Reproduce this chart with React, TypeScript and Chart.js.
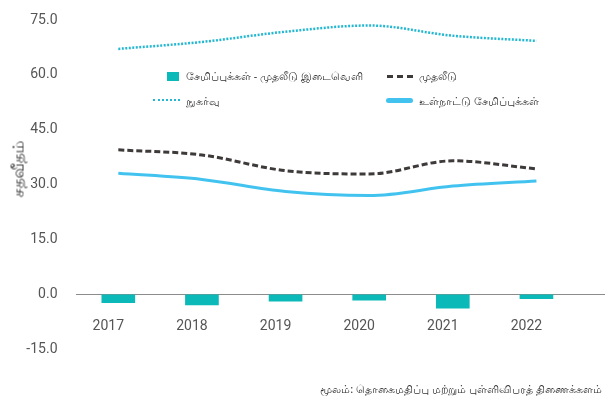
import React, { useEffect, useRef } from "react";
import { Chart, registerables } from "chart.js";

Chart.register(...registerables);

const years = [2017, 2018, 2019, 2020, 2021, 2022];
const gapValues = [-2.3, -2.9, -1.9, -1.6, -3.8, -1.2];
const investmentValues = [39.5, 38.1, 33.8, 32.9, 36.5, 34.3];
const consumptionValues = [67.1, 69.0, 71.8, 73.5, 70.7, 69.3];
const savingsValues = [33.1, 31.4, 28.1, 27.0, 29.6, 31.0];

const yTicks = [-15, 0, 15, 30, 45, 60, 75];

const labelGap = "சேமிப்புக்கள் - முதலீடு இடைவெளி";
const labelInvestment = "முதலீடு";
const labelConsumption = "நுகர்வு";
const labelSavings = "உள்நாட்டு சேமிப்புக்கள்";
const yTitle = "சதவீதம்";
const sourceText = "மூலம்: தொகைமதிப்பு மற்றும் புள்ளிவிபரத் திணைக்களம்";

const colGap = "#0bb9b8";
const colInvestment = "#3f3a3a";
const colConsumption = "#22b8d2";
const colSavings = "#42c3ef";

const tamilFont = '"Noto Sans", sans-serif';
const tickFont = "Roboto, sans-serif";

const pts = (vals: number[]) => vals.map((v, i) => ({ x: years[i], y: v }));

export default function App() {
  const ref = useRef<HTMLCanvasElement | null>(null);

  useEffect(() => {
    document.body.style.margin = "0";
    const ctx = ref.current!;
    const chart = new Chart(ctx, {
      type: "bar",
      data: {
        datasets: [
          {
            type: "line",
            label: labelConsumption,
            data: pts(consumptionValues),
            borderColor: colConsumption,
            borderWidth: 2.5,
            borderDash: [2, 1.5],
            pointRadius: 0,
            fill: false,
            cubicInterpolationMode: "monotone",
          } as any,
          {
            type: "line",
            label: labelInvestment,
            data: pts(investmentValues),
            borderColor: colInvestment,
            borderWidth: 3,
            borderDash: [6, 3],
            pointRadius: 0,
            fill: false,
            cubicInterpolationMode: "monotone",
          } as any,
          {
            type: "line",
            label: labelSavings,
            data: pts(savingsValues),
            borderColor: colSavings,
            borderWidth: 3,
            pointRadius: 0,
            fill: false,
            cubicInterpolationMode: "monotone",
          } as any,
          {
            type: "bar",
            label: labelGap,
            data: pts(gapValues),
            backgroundColor: colGap,
            barThickness: 33,
          } as any,
        ],
      },
      options: {
        animation: false,
        responsive: false,
        maintainAspectRatio: false,
        layout: { padding: { top: 20, bottom: 50.8, left: 0, right: 0 } },
        plugins: {
          legend: { display: false },
          tooltip: { enabled: false },
          title: { display: false },
        },
        scales: {
          x: {
            type: "linear",
            position: { y: 0 } as any,
            min: 2016.5,
            max: 2022.82,
            offset: false,
            afterBuildTicks: (scale: any) => {
              scale.ticks = years.map((v) => ({ value: v }));
            },
            grid: { display: false, drawTicks: false },
            border: { display: true, color: "#8c8c8c", width: 1 },
            ticks: {
              padding: 24,
              labelOffset: -10,
              color: "#555555",
              font: { family: tickFont, size: 14 },
              callback: (v: any) => String(v),
              maxRotation: 0,
              autoSkip: false,
            },
          },
          y: {
            type: "linear",
            min: -15,
            max: 75,
            afterBuildTicks: (scale: any) => {
              scale.ticks = yTicks.map((v) => ({ value: v }));
            },
            afterFit: (scale: any) => {
              scale.width = 76.5;
            },
            grid: {
              display: true,
              drawOnChartArea: false,
              drawTicks: true,
              tickLength: 16,
              color: "rgba(0,0,0,0)",
            },
            border: { display: false },
            ticks: {
              padding: 3,
              color: "#555555",
              font: { family: tickFont, size: 14 },
              callback: (v: any) => Number(v).toFixed(1),
            },
          },
        },
      },
    });
    return () => chart.destroy();
  }, []);

  const legendText: React.CSSProperties = {
    position: "absolute",
    fontFamily: tamilFont,
    fontSize: 10.8,
    color: "#333333",
    lineHeight: "14px",
    whiteSpace: "nowrap",
    transform: "translateY(-50%)",
  };

  return (
    <div style={{ position: "relative", width: 605, height: 400 }}>
      <canvas ref={ref} width={605} height={400} style={{ display: "block" }} />
      {/* y-axis title */}
      <div
        style={{
          position: "absolute",
          left: 18,
          top: 169,
          transform: "translate(-50%, -50%) rotate(-90deg)",
          fontFamily: tamilFont,
          fontSize: 15.5,
          color: "#333333",
          whiteSpace: "nowrap",
        }}
      >
        {yTitle}
      </div>
      {/* legend row 1 */}
      <div style={{ position: "absolute", left: 167, top: 72, width: 12, height: 9, background: colGap }} />
      <div style={{ ...legendText, left: 186, top: 76 }}>{labelGap}</div>
      <div
        style={{
          position: "absolute",
          left: 387,
          top: 75,
          width: 26,
          height: 0,
          borderTop: `3px dashed ${colInvestment}`,
        }}
      />
      <div style={{ ...legendText, left: 419, top: 76 }}>{labelInvestment}</div>
      {/* legend row 2 */}
      <div
        style={{
          position: "absolute",
          left: 153,
          top: 99,
          width: 27,
          height: 0,
          borderTop: `2.5px dotted ${colConsumption}`,
        }}
      />
      <div style={{ ...legendText, left: 186, top: 100.5 }}>{labelConsumption}</div>
      <div
        style={{
          position: "absolute",
          left: 386,
          top: 98,
          width: 27,
          height: 5,
          borderRadius: 3,
          background: colSavings,
        }}
      />
      <div style={{ ...legendText, left: 419, top: 100.5 }}>{labelSavings}</div>
      {/* source */}
      <div
        style={{
          position: "absolute",
          right: 3,
          top: 389,
          transform: "translateY(-50%)",
          fontFamily: tamilFont,
          fontSize: 11.2,
          color: "#333333",
          whiteSpace: "nowrap",
        }}
      >
        {sourceText}
      </div>
    </div>
  );
}
